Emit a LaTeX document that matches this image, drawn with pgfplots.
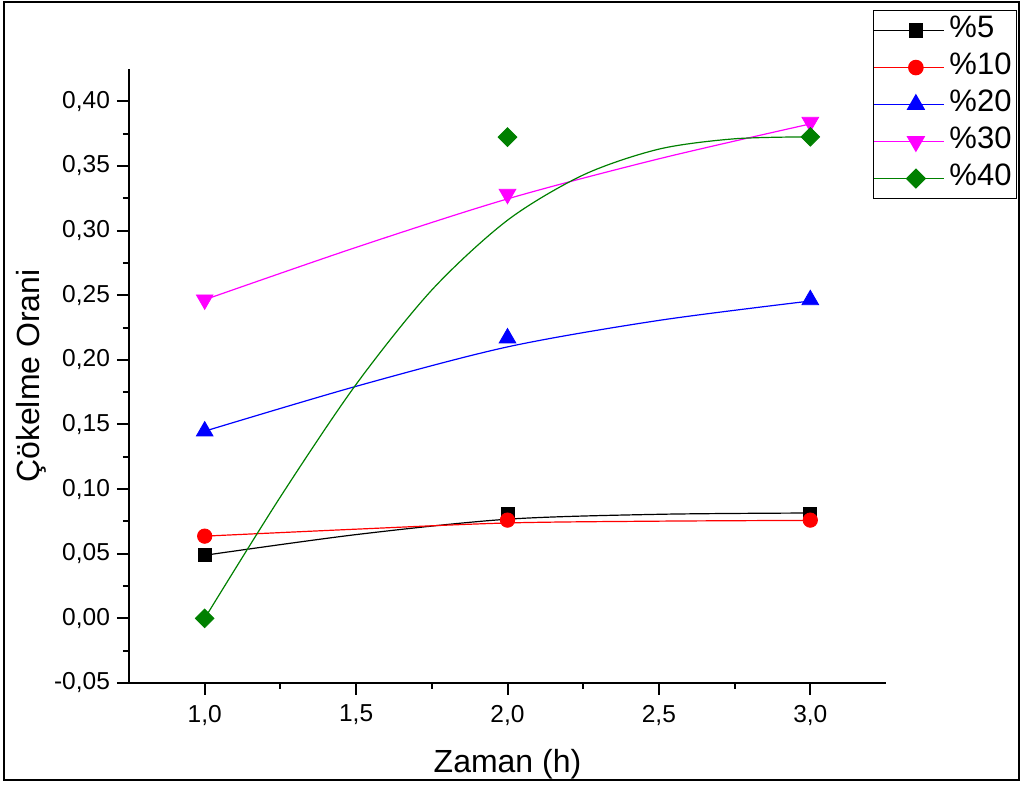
\documentclass[border=0pt]{standalone}
\usepackage{fontspec}
\setmainfont{Liberation Sans}
\usepackage{pgfplots}
\pgfplotsset{compat=1.18}
\definecolor{ogreen}{RGB}{0,128,0}
\definecolor{omag}{RGB}{255,0,255}
\definecolor{ored}{RGB}{255,0,0}
\definecolor{oblue}{RGB}{0,0,255}
\begin{document}
\begin{tikzpicture}
\begin{axis}[
  at={(64.5pt,51pt)}, anchor=south west,
  scale only axis, width=378.5pt, height=307pt,
  xmin=0.75, xmax=3.25, ymin=-0.05, ymax=0.425,
  axis x line*=bottom, axis y line*=left,
  axis line style={line width=1pt,-},
  xtick={1,1.5,2,2.5,3}, minor x tick num=1,
  xticklabels={{1,0},{1,5},{2,0},{2,5},{3,0}},
  ytick={-0.05,0,0.05,0.1,0.15,0.2,0.25,0.3,0.35,0.4}, minor y tick num=1,
  yticklabels={{-0,05},{0,00},{0,05},{0,10},{0,15},{0,20},{0,25},{0,30},{0,35},{0,40}},
  tick align=outside,
  major tick length=6pt, minor tick length=3pt,
  tick style={line width=1pt, black},
  ticklabel style={font=\fontsize{12.25}{14}\selectfont},
  x tick label style={yshift=-1.5pt},
  xlabel={Zaman (h)}, ylabel={Çökelme Orani},
  every axis x label/.style={at={(axis description cs:0.5,-0.145)}, anchor=base, font=\fontsize{16}{18}\selectfont},
  every axis y label/.style={at={(axis description cs:-0.1176,0.5)}, anchor=base, rotate=90, font=\fontsize{16}{18}\selectfont},
  legend style={at={(1.1731,1.096)}, anchor=north east, draw=black, line width=0.5pt,
    inner xsep=0pt, inner ysep=1.5pt, row sep=1.5pt,
    font=\fontsize{15.5}{17}\selectfont,
    nodes={inner xsep=2.5pt, inner ysep=1.5pt, text height=10.5pt, text depth=3.5pt}},
  legend cell align=left,
  legend image code/.code={\path (0pt,0pt) -- (35pt,0pt);\draw[mark repeat=2,mark phase=2,#1] plot coordinates {(7pt,0pt)(21pt,0pt)(35pt,0pt)};},
]
% %5
\addplot[black, line width=0.6pt, smooth, forget plot] coordinates {(1,0.0488)(1.5,0.0648)(2,0.0767)(2.5,0.0805)(3,0.0815)};
\addplot[black, only marks, mark=square*, mark size=3.25pt, forget plot] coordinates {(1,0.0488)(2,0.081)(3,0.081)};
% %10
\addplot[ored, line width=0.6pt, smooth, forget plot] coordinates {(1,0.0636)(1.5,0.069)(2,0.0738)(2.5,0.0752)(3,0.0758)};
\addplot[ored, only marks, mark=*, mark size=3.6pt, forget plot] coordinates {(1,0.0636)(2,0.076)(3,0.076)};
% %20
\addplot[oblue, line width=0.6pt, smooth, forget plot] coordinates {(1,0.1448)(1.5,0.1795)(2,0.210)(2.5,0.2305)(3,0.2455)};
\addplot[oblue, only marks, mark=triangle*, mark size=4.8pt, forget plot] coordinates {(1,0.1448)(2,0.2168)(3,0.2464)};
% %30
\addplot[omag, line width=0.6pt, smooth, forget plot] coordinates {(1,0.2465)(1.5,0.287)(2,0.3245)(2.5,0.3555)(3,0.3825)};
\addplot[omag, only marks, mark=triangle*, mark size=4.8pt, mark options={rotate=180}, forget plot] coordinates {(1,0.2465)(2,0.3282)(3,0.3839)};
% %40
\addplot[ogreen, line width=0.6pt, smooth, forget plot] coordinates {(1,0)(1.25,0.094)(1.5,0.181)(1.75,0.254)(2,0.308)(2.25,0.343)(2.5,0.363)(2.75,0.371)(3,0.3725)};
\addplot[ogreen, only marks, mark=square*, mark size=3.3pt, mark options={rotate=45}, forget plot] coordinates {(1,0)(2,0.3723)(3,0.3725)};
% legend
\addlegendimage{black, line width=0.6pt, mark=square*, mark size=3.25pt, mark options={solid}}
\addlegendentry{\%5}
\addlegendimage{ored, line width=0.6pt, mark=*, mark size=3.6pt, mark options={solid}}
\addlegendentry{\%10}
\addlegendimage{oblue, line width=0.6pt, mark=triangle*, mark size=4.8pt, mark options={solid}}
\addlegendentry{\%20}
\addlegendimage{omag, line width=0.6pt, mark=triangle*, mark size=4.8pt, mark options={solid, rotate=180}}
\addlegendentry{\%30}
\addlegendimage{ogreen, line width=0.6pt, mark=square*, mark size=3.3pt, mark options={solid, rotate=45}}
\addlegendentry{\%40}
\end{axis}
\draw[line width=1pt] (2pt,2.5pt) rectangle (509.5pt,391.5pt);
\pgfresetboundingbox
\useasboundingbox (0,0) rectangle (511pt,392.5pt);
\end{tikzpicture}
\end{document}
